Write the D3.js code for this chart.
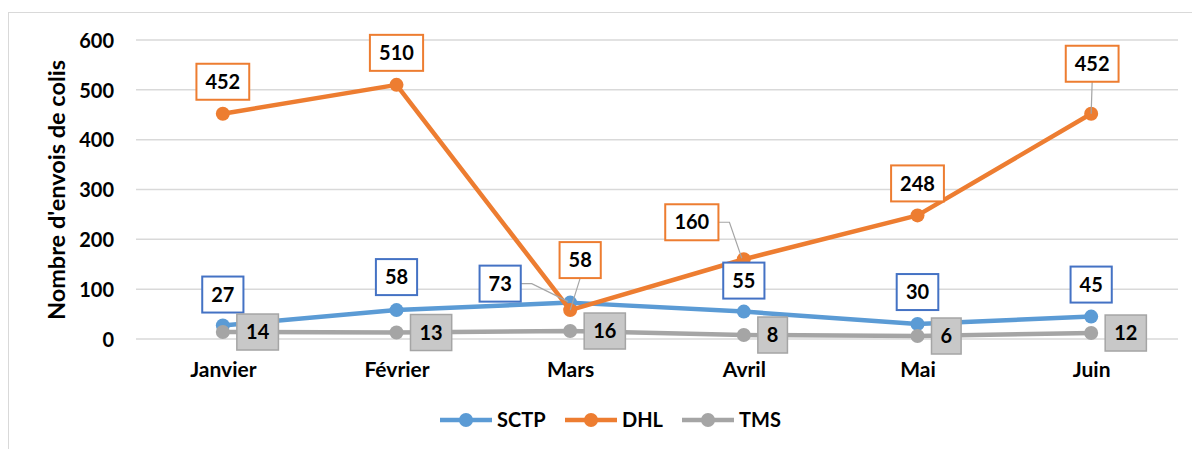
<!DOCTYPE html>
<html>
<head>
<meta charset="utf-8">
<script src="https://cdn.jsdelivr.net/npm/d3@7"></script>
<style>
  body { margin: 0; background: #fff; }
  text { font-family: Lato, "Open Sans", sans-serif; font-weight: bold; fill: #000; }
</style>
</head>
<body>
<svg id="chart"></svg>
<script>
// ---------------------- data ---------------------------
const months = ["Janvier", "Février", "Mars", "Avril", "Mai", "Juin"];
const sctp = [27, 58, 73, 55, 30, 45];
const dhl = [452, 510, 58, 160, 248, 452];
const tms = [14, 13, 16, 8, 6, 12];
const yTicks = [0, 100, 200, 300, 400, 500, 600];

// label offsets from the point (center of box), and leader lines
const sctpLabelOffset = [[0, -31], [0, -33], [-70, -19], [0, -31], [0, -32], [0, -32]];
const dhlLabelOffset = [[0, -32], [0, -32], [10, -50], [-52, -37], [0, -32], [1, -50]];
const sctpLeader = [false, false, true, false, false, false];
const dhlLeader = [false, false, true, true, false, true];

// ---------------------- setup ---------------------------
const width = 1192;
const height = 449;
const margin = {left: 136, right: 14, top: 40, bottom: 110};
const labelSize = "20px";

const svg = d3.select("#chart")
  .attr("width", width)
  .attr("height", height);

// chart frame
svg.append("rect")
  .attr("x", 8.5).attr("y", 12.5)
  .attr("width", 1200).attr("height", 460)
  .attr("fill", "none")
  .attr("stroke", "#d9d9d9");

const x = d3.scalePoint()
  .domain(months)
  .range([margin.left, width - margin.right])
  .padding(0.5);

const y = d3.scaleLinear()
  .domain([0, 600])
  .range([339, 40]);

// grid lines
svg.append("g")
  .selectAll("line")
  .data(yTicks)
  .join("line")
  .attr("x1", margin.left)
  .attr("x2", width - margin.right)
  .attr("y1", d => y(d))
  .attr("y2", d => y(d))
  .attr("stroke", "#d9d9d9")
  .attr("stroke-width", 1.5);

// y axis
const yAxis = svg.append("g")
  .attr("transform", "translate(" + (margin.left - 22) + ",0)")
  .call(d3.axisLeft(y).tickValues(yTicks).tickSize(0).tickPadding(0));
yAxis.select(".domain").remove();
yAxis.selectAll("text")
  .style("font-size", "20px")
  .style("font-family", "Lato, sans-serif")
  .attr("dy", "0.36em");

// x axis
const xAxis = svg.append("g")
  .attr("transform", "translate(0,339)")
  .call(d3.axisBottom(x).tickSize(0).tickPadding(0));
xAxis.select(".domain").remove();
xAxis.selectAll("text")
  .style("font-size", "21px")
  .style("font-family", "Lato, sans-serif")
  .attr("y", 30)
  .attr("dy", "0.36em");

// y axis title
svg.append("text")
  .attr("transform", "translate(57,190) rotate(-90)")
  .attr("text-anchor", "middle")
  .attr("dy", "0.36em")
  .style("font-size", "23.5px")
  .text("Nombre d'envois de colis");

// ---------------------- series ---------------------------
const series = [
  {name: "SCTP", values: sctp, color: "#5b9bd5"},
  {name: "DHL", values: dhl, color: "#ed7d31"},
  {name: "TMS", values: tms, color: "#a5a5a5"}
];

const line = d3.line()
  .x((d, i) => x(months[i]))
  .y(d => y(d));

series.forEach(s => {
  const g = svg.append("g");
  g.append("path")
    .datum(s.values)
    .attr("d", line)
    .attr("fill", "none")
    .attr("stroke", s.color)
    .attr("stroke-width", 4.5)
    .attr("stroke-linejoin", "round");
  g.selectAll("circle")
    .data(s.values)
    .join("circle")
    .attr("cx", (d, i) => x(months[i]))
    .attr("cy", d => y(d))
    .attr("r", 7)
    .attr("fill", s.color);
});

// ---------------------- data labels ---------------------------
const leaders = svg.append("g");
const labels = svg.append("g");

// anchor: "middle" -> box centered on (cx, cy); "left" -> box starts at cx
function drawLabel(px, py, cx, cy, txt, stroke, fill, strokeW, leader, anchor) {
  const g = labels.append("g");
  const t = g.append("text")
    .attr("y", cy)
    .attr("text-anchor", "middle")
    .attr("dy", "0.36em")
    .style("font-size", labelSize)
    .text(txt);
  const w = t.node().getBBox().width + 18, h = 36;
  if (anchor === "left") cx = cx + w / 2;
  t.attr("x", cx);
  if (leader) {
    let pts;
    if (Math.abs(cx - px) < 20) {
      // straight down from box bottom
      pts = [[cx, cy + h / 2], [px, py]];
    } else if (cx < px) {
      pts = [[cx + w / 2, cy], [cx + w / 2 + 11, cy], [px - 2, py - 1]];
    } else {
      pts = [[cx - w / 2, cy], [cx - w / 2 - 11, cy], [px + 2, py - 1]];
    }
    leaders.append("path")
      .attr("d", d3.line()(pts))
      .attr("fill", "none")
      .attr("stroke", "#a5a5a5")
      .attr("stroke-width", 1.2);
  }
  g.insert("rect", "text")
    .attr("x", cx - w / 2).attr("y", cy - h / 2)
    .attr("width", w).attr("height", h)
    .attr("fill", fill)
    .attr("stroke", stroke)
    .attr("stroke-width", strokeW);
}

months.forEach((m, i) => {
  const px = x(m);
  drawLabel(px, y(dhl[i]), px + dhlLabelOffset[i][0], y(dhl[i]) + dhlLabelOffset[i][1],
    dhl[i], "#ed7d31", "#fff", 2, dhlLeader[i], "middle");
});
months.forEach((m, i) => {
  const px = x(m);
  drawLabel(px, y(sctp[i]), px + sctpLabelOffset[i][0], y(sctp[i]) + sctpLabelOffset[i][1],
    sctp[i], "#4472c4", "#fff", 2, sctpLeader[i], "middle");
});
months.forEach((m, i) => {
  const px = x(m);
  // TMS labels sit to the right of the point
  drawLabel(px, y(tms[i]), px + 14, y(tms[i]),
    tms[i], "#a5a5a5", "#c8c8c8", 1.5, false, "left");
});

// ---------------------- legend ---------------------------
const legendX = [440, 565, 682];
const legend = svg.append("g");
series.forEach((s, i) => {
  const lx = legendX[i];
  legend.append("line")
    .attr("x1", lx).attr("x2", lx + 52)
    .attr("y1", 420).attr("y2", 420)
    .attr("stroke", s.color)
    .attr("stroke-width", 4.5);
  legend.append("circle")
    .attr("cx", lx + 26).attr("cy", 420)
    .attr("r", 7)
    .attr("fill", s.color);
  legend.append("text")
    .attr("x", lx + 57).attr("y", 420)
    .attr("dy", "0.36em")
    .style("font-size", "20px")
    .text(s.name);
});
</script>
</body>
</html>
